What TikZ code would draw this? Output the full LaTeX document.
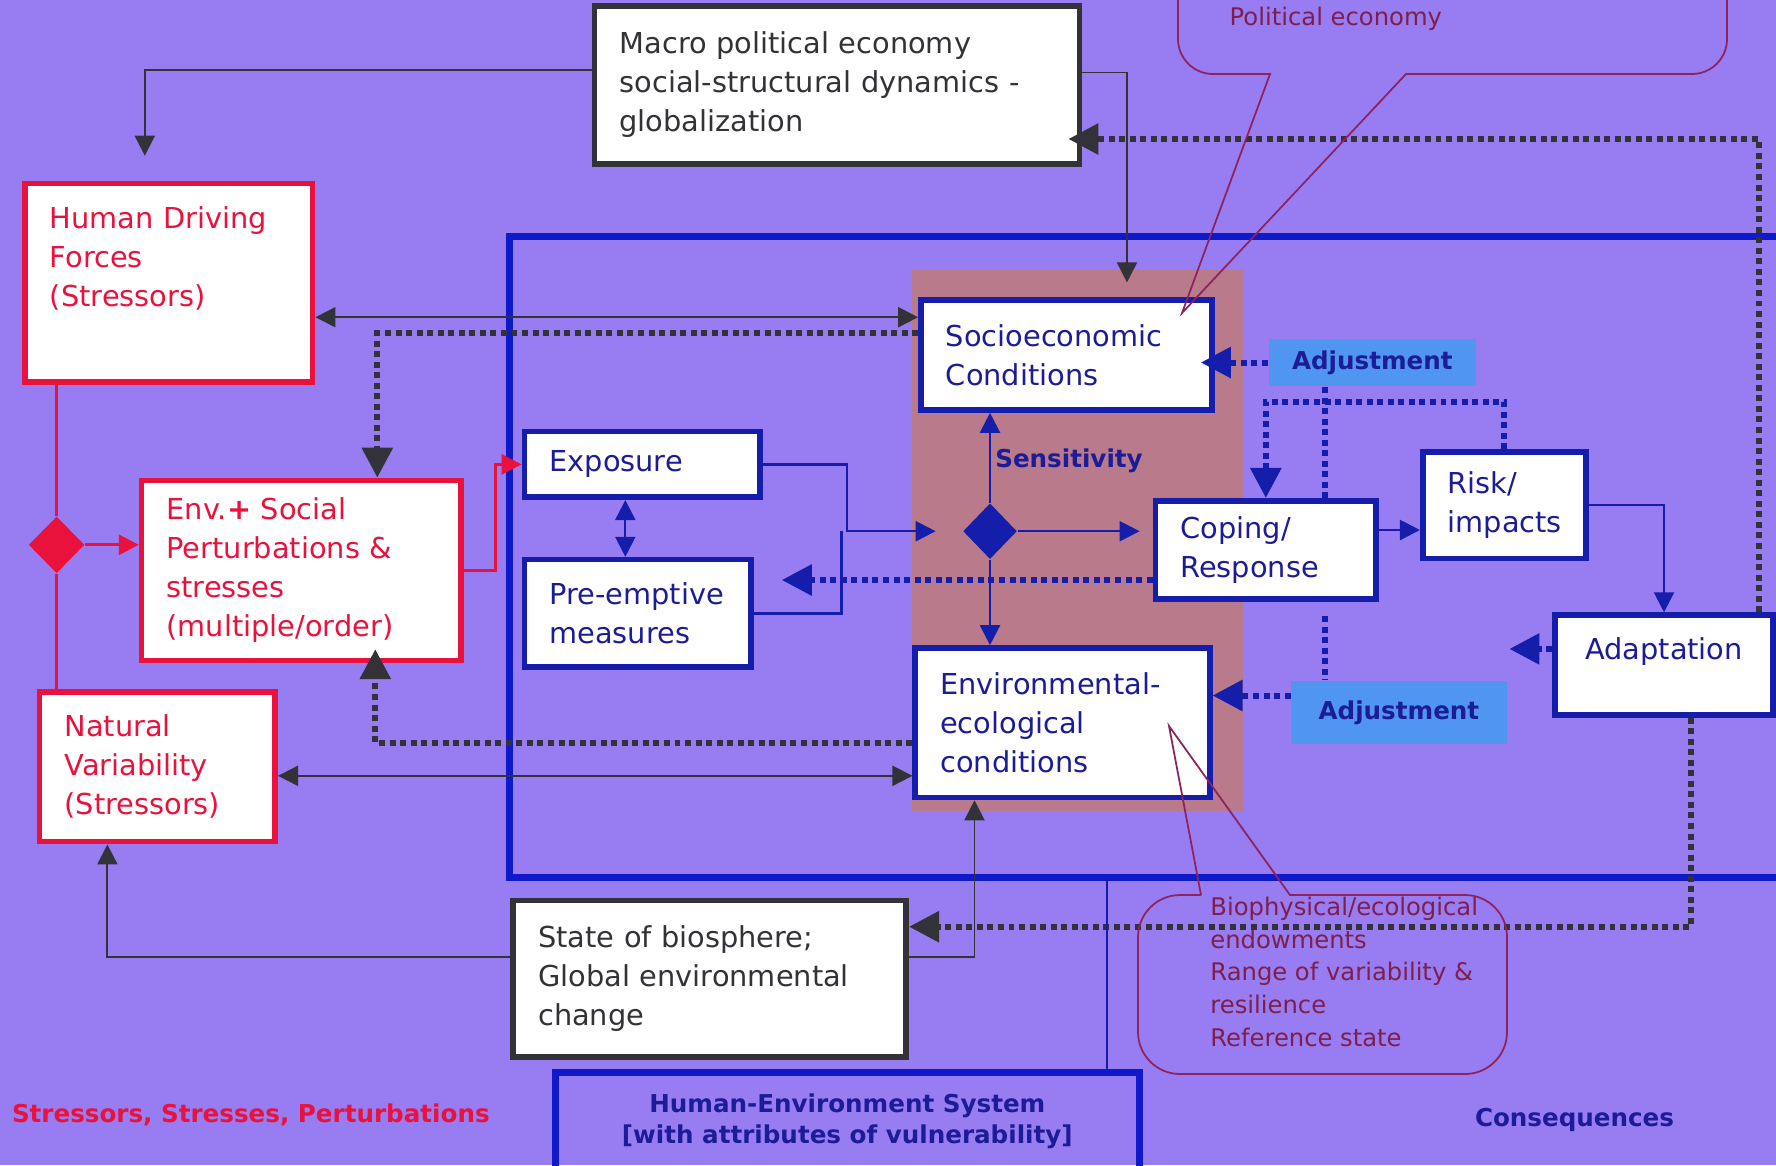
\documentclass[tikz,border=0pt]{standalone}
\usepackage{fontspec}
\setmainfont{DejaVu Sans}
\usetikzlibrary{arrows.meta, shapes.geometric}

\definecolor{bgpurple}{RGB}{152,124,242}
\definecolor{sensbrown}{RGB}{185,122,140}
\definecolor{hred}{RGB}{232,18,60}
\definecolor{lgray}{RGB}{50,50,56}
\definecolor{fblue}{RGB}{15,25,200}
\definecolor{bblue}{RGB}{20,30,170}
\definecolor{tblue}{RGB}{28,28,150}
\definecolor{adjblue}{RGB}{80,150,240}
\definecolor{maroon}{RGB}{140,35,95}
\definecolor{mtext}{RGB}{125,30,75}

\newcommand{\boxsz}{\fontsize{8.2}{11.1}\selectfont}
\newcommand{\tagsz}{\fontsize{7}{9}\selectfont\bfseries}
\newcommand{\notesz}{\fontsize{6.9}{9.33}\selectfont}

\tikzset{
  diagbox/.style={rectangle, draw, fill=white, line width=1.6pt, align=left,
    inner xsep=0.25cm, inner ysep=0pt, font=\boxsz},
  redbox/.style={diagbox, draw=hred, text=hred},
  greybox/.style={diagbox, draw=lgray, text=lgray},
  bluebox/.style={diagbox, draw=bblue, text=tblue},
  hesbox/.style={rectangle, draw=fblue, line width=2pt, text=tblue, align=center,
    inner sep=0pt, font=\tagsz},
  adjbox/.style={rectangle, fill=adjblue, text=tblue, inner sep=0pt, font=\tagsz},
  rline/.style={draw=hred, line width=0.8pt},
  gline/.style={draw=lgray, line width=0.55pt},
  bline/.style={draw=bblue, line width=0.65pt},
  gdot/.style={draw=lgray, line width=1.7pt, dash pattern=on 1.7pt off 1.3pt,
    -{Triangle[length=3mm,width=3mm]}},
  bdotline/.style={draw=bblue, line width=1.7pt, dash pattern=on 1.7pt off 1.3pt},
  bdot/.style={bdotline, -{Triangle[length=3mm,width=3mm]}},
  hesframe/.style={draw=fblue, line width=2pt},
  calloutline/.style={draw=maroon, line width=0.5pt},
  >={Triangle[length=2mm,width=2mm]}
}

\begin{document}
\begin{tikzpicture}[x=1cm,y=-1cm]
  \useasboundingbox (0,0) rectangle (17.76,11.65);
  \fill[bgpurple] (0,0) rectangle (17.76,11.65);
  % sensitivity band and system frame
  \fill[sensbrown] (9.118,2.696) rectangle (12.426,8.11);
  \draw[hesframe] (5.097,2.367) rectangle (17.95,8.779);
  \coordinate (hesln) at (11.067,8.779);

  % stressors
  \node[greybox, text width=4.35cm, minimum height=1.585cm] (macro) at (8.371,0.85)
    {Macro political economy\\social-structural dynamics -\\globalization};
  \node[redbox, text width=2.377cm, minimum height=1.982cm] (hdf) at (1.688,2.826)
    {Human Driving\\Forces\\(Stressors)\par\kern0.49cm};
  \node[redbox, text width=2.694cm, minimum height=1.8cm] (env) at (3.013,5.704)
    {Env.{\bfseries+} Social\\Perturbations \&\\stresses\\(multiple/order)};
  \node[redbox, text width=1.856cm, minimum height=1.496cm] (nat) at (1.574,7.668)
    {Natural\\Variability\\(Stressors)};
  \node[diamond, fill=hred, minimum width=0.56cm, minimum height=0.57cm, inner sep=0pt]
    (dred) at (0.566,5.448) {};
  \node[greybox, text width=3.431cm, minimum height=1.563cm] (state) at (7.097,9.787)
    {State of biosphere;\\Global environmental\\change};

  % human-environment system
  \node[bluebox, text width=1.857cm, minimum height=0.657cm] (expo) at (6.423,4.644) {Exposure};
  \node[bluebox, text width=1.766cm, minimum height=1.076cm] (pre) at (6.377,6.134)
    {\mbox{Pre-emptive}\\measures};
  \node[bluebox, text width=2.411cm, minimum height=1.098cm] (socio) at (10.665,3.551)
    {Socioeconomic\\Conditions};
  \node[bluebox, text width=2.445cm, minimum height=1.495cm] (envir) at (10.625,7.227)
    {Environmental-\\ecological\\conditions};
  \node[diamond, fill=bblue, minimum width=0.54cm, minimum height=0.56cm, inner sep=0pt]
    (dblue) at (9.90,5.312) {};
  \node[font=\tagsz, text=tblue] (sens) at (10.69,4.61) {Sensitivity};
  \node[bluebox, text width=1.708cm, minimum height=0.985cm] (cope) at (12.658,5.50)
    {Coping/\\Response};
  \node[bluebox, text width=1.131cm, minimum height=1.064cm] (risk) at (15.043,5.052)
    {Risk/\\impacts};
  \node[bluebox, align=center, text width=1.675cm, minimum height=0.997cm] (adapt) at (16.64,6.649)
    {Adaptation\par\kern0.27cm};
  \node[adjbox, minimum width=2.075cm, minimum height=0.476cm] (adjt) at (13.723,3.625) {Adjustment};
  \node[adjbox, minimum width=2.152cm, minimum height=0.634cm] (adjb) at (13.989,7.125) {Adjustment};
  \node[hesbox, minimum width=5.845cm, minimum height=0.97cm] (hes) at (8.473,11.214)
    {Human-Environment System\\{}[with attributes of vulnerability]};

  % bottom captions
  \node[font=\tagsz, text=hred, anchor=west, inner sep=0pt] (lstress) at (0.113,11.15)
    {Stressors, Stresses, Perturbations};
  \node[font=\tagsz, text=tblue] (lcons) at (15.745,11.20) {Consequences};

  % red links
  \draw[rline] (dred |- hdf.south) -- (dred.north);
  \draw[rline] (dred.south) -- (dred |- nat.north);
  \draw[rline,->] (dred.east) -- (dred -| env.west);
  \draw[rline,->] (env.east) -- ++(0.317,0) |- (expo.west);

  % grey links
  \draw[gline,->,shorten >=2.5mm] ([yshift=1.5mm]macro.west) -| ([xshift=-2.4mm]hdf.north);
  \draw[gline,->,shorten >=1.5mm] ([yshift=1.25mm]macro.east) -| ([xshift=6.05mm]socio.north);
  \draw[gline,<->] ([yshift=-3.46mm]hdf.east) -- ([yshift=-3.46mm]hdf.east -| socio.west);
  \draw[gline,<->] ([yshift=-0.9mm]nat.east) -- ([yshift=-0.9mm]nat.east -| envir.west);
  \draw[gline,->] ([yshift=2.2mm]state.east) -| ([xshift=-8.8mm]envir.south);
  \draw[gline,->] ([yshift=2.2mm]state.west) -| ([xshift=-5mm]nat.south);
  \draw[gdot] ([yshift=2.2mm]socio.west) -| ([xshift=7.6mm]env.north);
  \draw[gdot,shorten >=-1.4mm] ([yshift=-2mm]envir.west) -| ([xshift=7.4mm]env.south);
  \draw[gdot,shorten >=-1.4mm] ([xshift=9.5mm]adapt.north) |- ([yshift=-5.4mm]macro.east);
  \draw[gdot] ([xshift=2.7mm]adapt.south) |- ([yshift=5.2mm]state.east);

  % blue links
  \coordinate (stip) at (9.356,5.312);
  \draw[bline,<->] ([xshift=-1.7mm]expo.south) -- ([xshift=-1.7mm]expo.south |- pre.north);
  \draw[bline,->] (expo.east) -| (8.473,5.312) -- (stip);
  \draw[bline] (pre.east) -| (8.416,5.312);
  \draw[bline,->] (dblue.north) -- (dblue.north |- socio.south);
  \draw[bline,->] (dblue.south) -- (dblue.south |- envir.north);
  \draw[bline,->,shorten >=1.3mm] (dblue.east) -- (dblue.east -| cope.west);
  \draw[bline,->] ([yshift=2mm]cope.east) -- ([yshift=2mm]cope.east -| risk.west);
  \draw[bline,->] (risk.east) -| (adapt.north);
  \draw[bline] (hesln) -- (hesln |- hes.north);

  % adjustment loops
  \draw[bdot,shorten >=-1.4mm] (adjt.west) -- (adjt.west -| socio.east);
  \draw[bdot] ([yshift=1.7mm]adjb.west) -- ([yshift=1.7mm]adjb.west -| envir.east);
  \draw[bdotline] ([xshift=-4.7mm]adjt.south) -- ([xshift=-4.7mm]adjt.south |- cope.north);
  \draw[bdot] (risk.north) -- ++(0,-0.476) -| (cope.north);
  \draw[bdotline] ([xshift=5.95mm,yshift=-1.4mm]cope.south) -- ([xshift=5.95mm]cope.south |- adjb.north);
  \draw[bdot,shorten >=2.8mm] ([yshift=-3mm]cope.west) -- ([yshift=-3mm]cope.west -| pre.east);
  \draw[bdot] ([yshift=1.6mm]adapt.west) -- ++(-0.43,0);

  % callouts
  \draw[calloutline] (11.78,-0.5) [rounded corners=0.35cm] -- (11.78,0.74)
    [sharp corners] -- (12.70,0.74) -- (11.82,3.13) -- (14.06,0.74)
    [rounded corners=0.35cm] -- (17.27,0.74) -- (17.27,-0.5);
  \node[font=\notesz, text=mtext, anchor=west, inner sep=0pt] (npol) at (12.29,0.19) {Political economy};
  \draw[calloutline] (12.01,8.95) -- (11.69,7.26) -- (12.90,8.95)
    [rounded corners=0.42cm] -- (15.07,8.95) -- (15.07,10.74) -- (11.38,10.74)
    -- (11.38,8.95) [sharp corners] -- (12.01,8.95);
  \node[font=\notesz, text=mtext, anchor=west, align=left, inner sep=0pt] (nbio) at (12.097,9.718)
    {Biophysical/ecological\\endowments\\Range of variability \&\\resilience\\Reference state};
\end{tikzpicture}
\end{document}
